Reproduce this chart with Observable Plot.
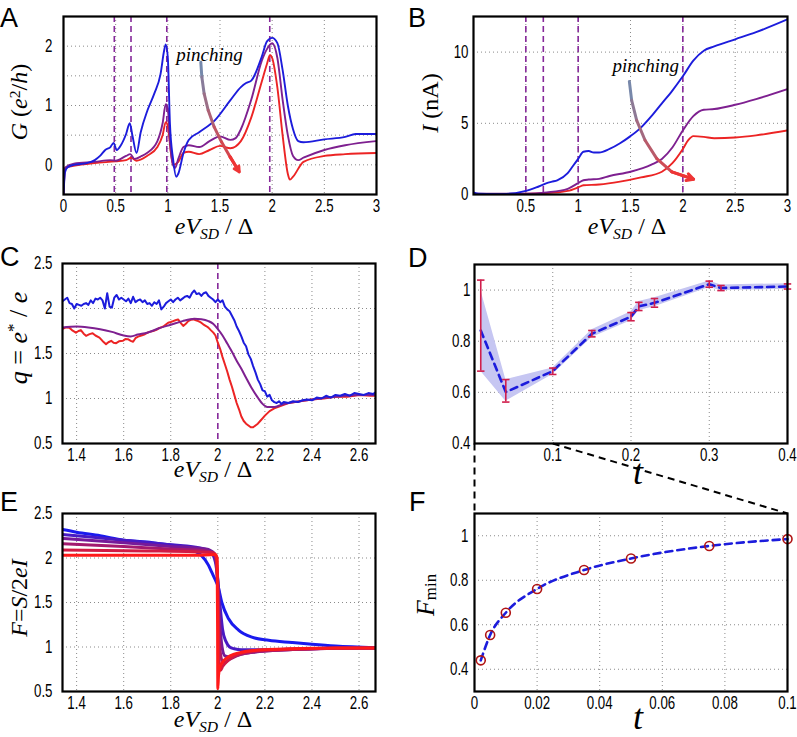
<!DOCTYPE html>
<html><head><meta charset="utf-8">
<script src="https://cdn.jsdelivr.net/npm/d3@7"></script>
<script src="https://cdn.jsdelivr.net/npm/@observablehq/plot@0.6"></script>
<style>
body{margin:0;background:#fff;}
#fig{position:relative;width:797px;height:737px;overflow:hidden;background:#fff;}
.lab{position:absolute;font-family:"Liberation Serif","Times New Roman",serif;font-size:24px;line-height:0.7;white-space:nowrap;color:#000;}
.lab sub,.lab sup{font-size:0.65em;line-height:0;position:relative;vertical-align:baseline;}
.lab sub{top:0.35em;}
.lab sub.low{top:0.12em;}
.lab sup{top:-0.45em;}
.letter{position:absolute;font-family:"Liberation Sans",Arial,sans-serif;font-size:27px;line-height:1;color:#000;}
</style>
</head><body><div id="fig"></div>
<script>
// ---------------- data ----------------
// Panel A: G (e^2/h) vs eV_SD/Δ
const aBlue = [[0,-0.5],[0.015,-0.12],[0.04,-0.04],[0.1,0.0],[0.2,0.02],[0.3,0.08],[0.35,0.15],[0.4,0.25],[0.45,0.3],[0.48,0.37],[0.51,0.25],[0.55,0.33],[0.6,0.52],[0.635,0.7],[0.66,0.5],[0.7,0.2],[0.74,0.55],[0.805,0.92],[0.87,1.2],[0.93,1.53],[0.965,1.93],[0.98,2.03],[1.0,1.8],[1.02,0.7],[1.05,0.1],[1.08,-0.2],[1.1,-0.15],[1.15,0.2],[1.2,0.42],[1.3,0.55],[1.45,0.75],[1.6,1.09],[1.7,1.31],[1.75,1.38],[1.8,1.42],[1.9,1.82],[1.95,2.08],[2.0,2.14],[2.05,2.05],[2.1,1.6],[2.15,1.0],[2.2,0.6],[2.25,0.4],[2.3,0.38],[2.5,0.43],[2.7,0.47],[2.8,0.52],[3.0,0.52]];
const aPurple = [[0,-0.5],[0.015,-0.05],[0.1,0.02],[0.3,0.05],[0.45,0.08],[0.5,0.07],[0.6,0.15],[0.64,0.18],[0.68,0.1],[0.75,0.15],[0.8,0.2],[0.9,0.4],[0.95,0.7],[0.98,1.02],[1.0,0.95],[1.02,0.4],[1.05,0.0],[1.07,-0.05],[1.1,0.1],[1.15,0.3],[1.2,0.33],[1.3,0.3],[1.4,0.4],[1.5,0.48],[1.6,0.42],[1.65,0.45],[1.7,0.6],[1.8,1.1],[1.9,1.75],[1.95,1.95],[2.0,2.05],[2.05,1.8],[2.1,1.1],[2.15,0.5],[2.2,0.15],[2.25,0.08],[2.3,0.12],[2.5,0.25],[2.7,0.33],[3.0,0.4]];
const aRed = [[0,-0.5],[0.015,-0.05],[0.3,0.03],[0.5,0.06],[0.6,0.08],[0.65,0.12],[0.7,0.07],[0.8,0.15],[0.9,0.3],[0.95,0.5],[0.98,0.72],[1.0,0.65],[1.03,0.2],[1.05,0.0],[1.1,0.05],[1.15,0.2],[1.2,0.22],[1.3,0.18],[1.4,0.25],[1.5,0.32],[1.6,0.28],[1.7,0.4],[1.8,0.8],[1.9,1.4],[1.95,1.7],[1.98,1.85],[2.0,1.8],[2.05,1.3],[2.1,0.5],[2.15,-0.15],[2.17,-0.25],[2.2,-0.2],[2.3,0.05],[2.5,0.15],[2.7,0.18],[3.0,0.2]];
const aMarkers = [0.487, 0.647, 0.99, 1.977];
const aArrow = [[1.316,1.731],[1.326,1.479],[1.348,1.199],[1.387,0.919],[1.444,0.639],[1.514,0.387],[1.597,0.134],[1.684,-0.118]];
const aText = [1.40, 1.86];

// Panel B: I (nA) vs eV_SD/Δ
const bBlue = [[0,0.15],[0.05,0.05],[0.2,0.02],[0.4,0.1],[0.5,0.25],[0.6,0.5],[0.7,0.8],[0.75,0.9],[0.8,1.0],[0.9,1.5],[0.95,2.0],[1.0,2.5],[1.05,3.0],[1.1,3.05],[1.15,2.95],[1.2,2.95],[1.3,3.2],[1.4,3.6],[1.5,4.1],[1.6,4.7],[1.7,5.5],[1.8,6.4],[1.9,7.3],[2.0,8.3],[2.1,9.4],[2.2,10.1],[2.3,10.4],[2.5,10.9],[2.7,11.4],[3.0,12.3]];
const bPurple = [[0,0.05],[0.5,0.05],[0.7,0.15],[0.9,0.4],[1.0,0.8],[1.05,1.0],[1.1,1.05],[1.2,1.1],[1.3,1.3],[1.5,1.6],[1.7,2.1],[1.8,2.5],[1.9,3.3],[2.0,4.5],[2.1,5.5],[2.2,5.95],[2.3,6.0],[2.5,6.3],[2.7,6.7],[3.0,7.4]];
const bRed = [[0,0.02],[0.7,0.1],[0.9,0.25],[1.0,0.5],[1.05,0.65],[1.2,0.7],[1.4,0.9],[1.6,1.2],[1.8,1.6],[1.9,2.2],[2.0,3.2],[2.05,3.8],[2.1,4.1],[2.2,4.05],[2.3,3.95],[2.5,4.0],[2.7,4.15],[3.0,4.5]];
const bMarkers = [0.5, 0.667, 1.0, 2.0];
const bArrow = [[1.489,7.94],[1.511,6.61],[1.559,5.21],[1.639,3.81],[1.751,2.52],[1.895,1.59],[2.103,1.07]];
const bText = [1.645, 9.0];

// Panel C: q = e*/e vs eV_SD/Δ
const cBlue = [[1.34,2.08],[1.35,2.10],[1.36,2.12],[1.37,2.06],[1.38,2.05],[1.39,2.00],[1.40,2.05],[1.41,2.04],[1.42,2.03],[1.43,2.05],[1.44,2.06],[1.45,2.04],[1.46,2.09],[1.47,2.06],[1.48,2.11],[1.49,2.10],[1.50,2.12],[1.51,2.09],[1.52,2.00],[1.53,2.17],[1.54,2.02],[1.55,2.01],[1.56,2.12],[1.57,2.15],[1.58,2.10],[1.59,2.12],[1.60,2.10],[1.61,2.08],[1.62,2.11],[1.63,2.06],[1.64,2.13],[1.65,2.07],[1.66,2.09],[1.67,2.10],[1.68,2.07],[1.69,2.09],[1.70,2.05],[1.71,2.06],[1.72,2.03],[1.73,2.07],[1.74,2.05],[1.75,2.09],[1.76,1.99],[1.77,2.02],[1.78,2.06],[1.79,2.08],[1.80,2.10],[1.81,2.07],[1.82,2.10],[1.83,2.12],[1.84,2.09],[1.85,2.11],[1.86,2.13],[1.87,2.14],[1.88,2.12],[1.89,2.17],[1.90,2.20],[1.91,2.16],[1.92,2.17],[1.93,2.14],[1.94,2.17],[1.95,2.18],[1.96,2.14],[1.97,2.12],[1.98,2.10],[1.99,2.07],[2.00,2.10],[2.01,2.07],[2.02,2.09],[2.03,2.02],[2.04,1.99],[2.05,1.97],[2.06,1.92],[2.07,1.87],[2.08,1.80],[2.09,1.75],[2.10,1.69],[2.11,1.62],[2.12,1.58],[2.13,1.49],[2.14,1.44],[2.15,1.36],[2.16,1.29],[2.17,1.21],[2.18,1.16],[2.19,1.09],[2.20,1.08],[2.21,1.02],[2.22,1.04],[2.23,0.98],[2.24,0.96],[2.25,0.95],[2.26,0.97],[2.27,0.94],[2.28,0.96],[2.30,0.95],[2.32,0.97],[2.34,0.96],[2.36,0.98],[2.38,0.99],[2.40,0.98],[2.42,1.01],[2.44,1.00],[2.46,1.03],[2.48,1.01],[2.50,1.04],[2.52,1.03],[2.54,1.05],[2.56,1.03],[2.58,1.06],[2.60,1.05],[2.62,1.04],[2.64,1.06],[2.66,1.05],[2.67,1.07]];
const cPurple = [[1.34,1.79],[1.40,1.80],[1.45,1.79],[1.50,1.77],[1.55,1.74],[1.60,1.70],[1.63,1.69],[1.66,1.71],[1.70,1.73],[1.75,1.78],[1.80,1.82],[1.85,1.86],[1.90,1.885],[1.93,1.88],[1.96,1.86],[1.98,1.83],[2.00,1.77],[2.02,1.70],[2.04,1.61],[2.06,1.52],[2.08,1.42],[2.10,1.33],[2.12,1.23],[2.145,1.11],[2.17,1.01],[2.19,0.94],[2.21,0.905],[2.24,0.905],[2.27,0.93],[2.30,0.95],[2.35,0.97],[2.40,0.99],[2.50,1.02],[2.60,1.04],[2.67,1.04]];
const cRed = [[1.343,1.776],[1.355,1.79],[1.369,1.787],[1.38,1.76],[1.397,1.732],[1.408,1.75],[1.418,1.76],[1.43,1.72],[1.44,1.696],[1.455,1.715],[1.468,1.725],[1.48,1.70],[1.497,1.677],[1.51,1.64],[1.525,1.604],[1.535,1.625],[1.547,1.641],[1.557,1.62],[1.568,1.615],[1.58,1.635],[1.597,1.641],[1.607,1.66],[1.618,1.659],[1.63,1.64],[1.64,1.63],[1.65,1.67],[1.661,1.688],[1.675,1.70],[1.69,1.714],[1.70,1.73],[1.71,1.74],[1.725,1.75],[1.739,1.762],[1.752,1.785],[1.767,1.798],[1.778,1.82],[1.789,1.842],[1.80,1.85],[1.81,1.86],[1.82,1.87],[1.831,1.879],[1.842,1.84],[1.853,1.806],[1.864,1.83],[1.874,1.86],[1.885,1.875],[1.896,1.879],[1.907,1.87],[1.917,1.86],[1.928,1.845],[1.938,1.824],[1.95,1.805],[1.96,1.787],[1.97,1.76],[1.981,1.732],[1.99,1.70],[2.00,1.62],[2.01,1.55],[2.02,1.46],[2.03,1.38],[2.04,1.30],[2.05,1.21],[2.06,1.13],[2.07,1.04],[2.08,0.95],[2.09,0.88],[2.10,0.80],[2.11,0.75],[2.12,0.72],[2.13,0.70],[2.14,0.68],[2.15,0.68],[2.16,0.70],[2.17,0.72],[2.18,0.75],[2.19,0.78],[2.20,0.81],[2.22,0.86],[2.24,0.89],[2.26,0.91],[2.28,0.93],[2.30,0.95],[2.35,0.97],[2.40,0.99],[2.45,1.00],[2.50,1.02],[2.55,1.02],[2.60,1.04],[2.65,1.03],[2.67,1.03]];
const cMarker = [2.0];

// Panel D: t vs value with error bars
const dT   = [0.008, 0.04, 0.1, 0.15, 0.2, 0.21, 0.23, 0.3, 0.315, 0.4];
const dMid = [0.842, 0.601, 0.683, 0.829, 0.896, 0.936, 0.95, 1.023, 1.008, 1.014];
const dErrHi = [1.039, 0.65, 0.695, 0.842, 0.912, 0.952, 0.967, 1.035, 1.018, 1.024];
const dErrLo = [0.683, 0.562, 0.67, 0.817, 0.88, 0.92, 0.933, 1.011, 0.998, 1.004];
const dBandHi = [1.0, 0.65, 0.695, 0.845, 0.915, 0.955, 0.97, 1.035, 1.02, 1.025];
const dBandLo = [0.683, 0.565, 0.67, 0.815, 0.88, 0.92, 0.935, 1.01, 0.998, 1.003];

// Panel E: F = S/2eI, six curves from red (most pinched) to blue
const eCurves = [
  [[1.34,2.03],[1.9,2.03],[1.99,2.04],[1.997,2.0],[1.999,1.2],[2.0,0.53],[2.003,0.68],[2.008,0.76],[2.02,0.83],[2.04,0.88],[2.07,0.92],[2.1,0.94],[2.15,0.96],[2.2,0.97],[2.3,0.98],[2.5,0.99],[2.67,0.99]],
  [[1.34,2.09],[1.7,2.08],[1.9,2.07],[1.98,2.06],[1.995,2.0],[2.0,1.6],[2.004,1.0],[2.008,0.76],[2.012,0.74],[2.02,0.78],[2.04,0.84],[2.07,0.9],[2.1,0.93],[2.15,0.955],[2.2,0.965],[2.3,0.975],[2.5,0.985],[2.67,0.99]],
  [[1.34,2.16],[1.6,2.13],[1.8,2.1],[1.95,2.08],[1.985,2.05],[1.998,1.8],[2.004,1.3],[2.01,0.95],[2.02,0.84],[2.03,0.83],[2.05,0.86],[2.08,0.9],[2.12,0.93],[2.2,0.955],[2.3,0.97],[2.5,0.985],[2.67,0.99]],
  [[1.34,2.22],[1.6,2.17],[1.8,2.13],[1.95,2.1],[1.985,2.05],[2.0,1.75],[2.008,1.3],[2.018,1.0],[2.03,0.9],[2.045,0.89],[2.07,0.9],[2.1,0.92],[2.15,0.94],[2.2,0.955],[2.3,0.97],[2.5,0.985],[2.67,0.99]],
  [[1.34,2.265],[1.6,2.2],[1.8,2.15],[1.93,2.11],[1.97,2.07],[1.99,1.95],[2.0,1.75],[2.01,1.45],[2.02,1.2],[2.035,1.06],[2.05,1.0],[2.07,0.98],[2.1,0.97],[2.2,0.97],[2.3,0.975],[2.5,0.985],[2.67,0.99]],
  [[1.34,2.32],[1.4,2.29],[1.5,2.25],[1.6,2.2],[1.7,2.18],[1.8,2.145],[1.85,2.13],[1.9,2.08],[1.93,2.03],[1.96,1.92],[1.974,1.84],[1.99,1.75],[2.0,1.69],[2.017,1.5],[2.045,1.32],[2.088,1.19],[2.145,1.11],[2.216,1.075],[2.315,1.05],[2.4,1.03],[2.5,1.01],[2.67,0.99]]
];

// Panel F: F_min vs t
const fT   = [0.002, 0.005, 0.01, 0.02, 0.035, 0.05, 0.075, 0.1];
const fMin = [0.44, 0.554, 0.654, 0.761, 0.846, 0.898, 0.954, 0.985];

// ---------------- styling / layout ----------------
const BLUE = "#1c1cdc", PURPLE = "#7e2090", RED = "#ec2424", MARK = "#86289a";
const fig = document.getElementById("fig");
const tickFont = '"Liberation Sans",Arial,sans-serif';
const pts = a => a.map(([x, y]) => ({x, y}));
const grid = (vals, dir) => dir === "x"
  ? Plot.ruleX(vals, {stroke: "#8a8a8a", strokeDasharray: "1,3", strokeWidth: 1})
  : Plot.ruleY(vals, {stroke: "#8a8a8a", strokeDasharray: "1,3", strokeWidth: 1});
const fmt = d => String(d);

// narrow (MATLAB-like condensed) tick labels: squeeze each tick label horizontally around its anchor
function condense(svg, s) {
  svg.querySelectorAll('g[aria-label$="tick label"] text, g[aria-label="x-axis"] text, g[aria-label="y-axis"] text').forEach(t => {
    const b = t.getBBox();
    const anchor = getComputedStyle(t).textAnchor;
    const ax = anchor === "end" ? b.x + b.width : anchor === "start" ? b.x : b.x + b.width / 2;
    const tr = t.getAttribute("transform") || "";
    t.setAttribute("transform", `${tr} translate(${ax},0) scale(${s},1) translate(${-ax},0)`);
  });
}

function panel({frame, m, x, y, marks, color, ypad = 10}) {
  const [fl, ft, fw, fh] = frame;
  const svg = Plot.plot({
    width: m.l + fw + m.r, height: m.t + fh + m.b,
    marginLeft: m.l, marginRight: m.r, marginTop: m.t, marginBottom: m.b,
    style: {fontFamily: tickFont, fontSize: "18px", color: "#000", background: "transparent", overflow: "visible"},
    x: {...x, tickSize: 0, tickPadding: 5, tickFormat: fmt, label: null},
    y: {...y, tickSize: 0, tickPadding: ypad, tickFormat: fmt, label: null},
    color: color || undefined,
    marks: [...marks, Plot.frame({stroke: "#000", strokeWidth: 2.2})]
  });
  svg.style.position = "absolute";
  svg.style.left = (fl - m.l) + "px";
  svg.style.top = (ft - m.t) + "px";
  fig.appendChild(svg);
  condense(svg, 0.74);
}

function arrowMarks(p, c0, c1) {
  const ip = d3.interpolateRgb(c0, c1);
  const segs = d3.pairs(p).map(([a, b], i, arr) => ({x1: a[0], y1: a[1], x2: b[0], y2: b[1], c: ip((i + 0.5) / arr.length)}));
  const last = segs[segs.length - 1];
  return [
    Plot.link(segs, {x1: "x1", y1: "y1", x2: "x2", y2: "y2", stroke: "c", strokeWidth: 3, strokeLinecap: "round"}),
    Plot.arrow([last], {x1: "x1", y1: "y1", x2: "x2", y2: "y2", stroke: c1, strokeWidth: 3, headLength: 13, headAngle: 55})
  ];
}
const textMark = (p) => Plot.text([{x: p[0], y: p[1], s: "pinching"}], {x: "x", y: "y", text: "s", fontFamily: '"Liberation Serif","Times New Roman",serif', fontStyle: "italic", fontSize: 19, fill: "#000"});
const line = (a, stroke, w = 1.9, curve = "monotone-x") => Plot.line(pts(a), {x: "x", y: "y", stroke, strokeWidth: w, curve, clip: true});

const M = {l: 48, r: 14, t: 8, b: 30};

// A
panel({
  frame: [63, 16, 313, 178], m: M, color: {type: "identity"}, ypad: 11,
  x: {domain: [0, 3], ticks: [0, 0.5, 1, 1.5, 2, 2.5, 3]},
  y: {domain: [-0.5, 2.5], ticks: [0, 1, 2]},
  marks: [
    grid([0.5, 1, 1.5, 2, 2.5], "x"), grid([0, 0.5, 1, 1.5, 2], "y"),
    Plot.ruleX(aMarkers, {stroke: MARK, strokeWidth: 1.6, strokeDasharray: "6,4"}),
    line(aRed, RED), line(aPurple, PURPLE), line(aBlue, BLUE),
    ...arrowMarks(aArrow, "#6d8fb5", "#ee3535"),
    textMark(aText)
  ]
});

// B
panel({
  frame: [473, 16, 314, 178], m: M, color: {type: "identity"}, ypad: 5,
  x: {domain: [0, 3], ticks: [0.5, 1, 1.5, 2, 2.5, 3]},
  y: {domain: [0, 12.5], ticks: [0, 5, 10]},
  marks: [
    grid([0.5, 1, 1.5, 2, 2.5], "x"), grid([5, 10], "y"),
    Plot.ruleX(bMarkers, {stroke: MARK, strokeWidth: 1.6, strokeDasharray: "6,4"}),
    line(bRed, RED), line(bPurple, PURPLE), line(bBlue, BLUE),
    ...arrowMarks(bArrow, "#6d8fb5", "#ee3535"),
    textMark(bText)
  ]
});

// C
panel({
  frame: [62, 263, 313, 180], m: M, ypad: 10,
  x: {domain: [1.34, 2.67], ticks: [1.4, 1.6, 1.8, 2, 2.2, 2.4, 2.6]},
  y: {domain: [0.5, 2.5], ticks: [0.5, 1, 1.5, 2, 2.5]},
  marks: [
    grid([1.4, 1.6, 1.8, 2.2, 2.4, 2.6], "x"), grid([1, 1.5, 2], "y"),
    Plot.ruleX(cMarker, {stroke: MARK, strokeWidth: 1.6, strokeDasharray: "6,4"}),
    line(cRed, RED, 2, "linear"), line(cPurple, PURPLE, 2), line(cBlue, BLUE, 2, "linear")
  ]
});

// D (with zoom connectors down to F)
const D_FRAME = [474, 264, 313, 179], F_FRAME = [474, 513, 313, 178];
const dDomainY = [0.4, 1.1];
const gapPx = F_FRAME[1] - (D_FRAME[1] + D_FRAME[3]);
const yConn = dDomainY[0] - gapPx * (dDomainY[1] - dDomainY[0]) / D_FRAME[3];
const dRows = dT.map((t, i) => ({t, mid: dMid[i], hi: dErrHi[i], lo: dErrLo[i], bhi: dBandHi[i], blo: dBandLo[i]}));
const capSymbol = {draw(ctx, size) { const w = Math.sqrt(size); ctx.moveTo(-w, 0); ctx.lineTo(w, 0); }};
panel({
  frame: D_FRAME, m: {l: 48, r: 14, t: 8, b: gapPx + 6}, ypad: 4,
  x: {domain: [0, 0.4], ticks: [0.1, 0.2, 0.3, 0.4]},
  y: {domain: dDomainY, ticks: [0.4, 0.6, 0.8, 1]},
  marks: [
    grid([0.1, 0.2, 0.3], "x"), grid([0.6, 0.8, 1], "y"),
    Plot.areaY(dRows, {x: "t", y1: "blo", y2: "bhi", fill: "#c6c6f2"}),
    Plot.line(dRows, {x: "t", y: "mid", stroke: BLUE, strokeWidth: 2.6, strokeDasharray: "7,5"}),
    Plot.ruleX(dRows, {x: "t", y1: "lo", y2: "hi", stroke: "#d01e4c", strokeWidth: 1.6}),
    Plot.dot(dRows, {x: "t", y: "hi", r: 2.1, symbol: capSymbol, stroke: "#d01e4c", strokeWidth: 1.6, fill: "none"}),
    Plot.dot(dRows, {x: "t", y: "lo", r: 2.1, symbol: capSymbol, stroke: "#d01e4c", strokeWidth: 1.6, fill: "none"}),
    Plot.link([{x1: 0, y1: dDomainY[0], x2: 0, y2: yConn}, {x1: 0.1, y1: dDomainY[0], x2: 0.4, y2: yConn}],
      {x1: "x1", y1: "y1", x2: "x2", y2: "y2", stroke: "#000", strokeWidth: 2, strokeDasharray: "7,5"})
  ]
});

// E
const eColor = d3.interpolateRgb("#ff1a1a", "#1a1aee");
panel({
  frame: [62, 513, 313, 178], m: M, ypad: 10,
  x: {domain: [1.34, 2.67], ticks: [1.4, 1.6, 1.8, 2, 2.2, 2.4, 2.6]},
  y: {domain: [0.5, 2.5], ticks: [0.5, 1, 1.5, 2, 2.5]},
  marks: [
    grid([1.4, 1.6, 1.8, 2, 2.2, 2.4, 2.6], "x"), grid([1, 1.5, 2], "y"),
    ...eCurves.map((c, i) => i).reverse().map(i => line(eCurves[i], eColor(i / (eCurves.length - 1)), 3, "monotone-x"))
  ]
});

// F
const fRows = fT.map((t, i) => ({t, v: fMin[i]}));
panel({
  frame: F_FRAME, m: M, ypad: 6,
  x: {domain: [0, 0.1], ticks: [0, 0.02, 0.04, 0.06, 0.08, 0.1]},
  y: {domain: [0.3, 1.1], ticks: [0.4, 0.6, 0.8, 1]},
  marks: [
    grid([0.02, 0.04, 0.06, 0.08], "x"), grid([0.4, 0.6, 0.8, 1], "y"),
    Plot.line(fRows, {x: "t", y: "v", stroke: BLUE, strokeWidth: 2.6, strokeDasharray: "7,5", curve: "monotone-x"}),
    Plot.dot(fRows, {x: "t", y: "v", r: 4.5, stroke: "#b01414", strokeWidth: 1.6, fill: "none"})
  ]
});

// ---------------- HTML labels ----------------
function lab(html, cx, cy, size, rotate) {
  const d = document.createElement("div");
  d.className = "lab";
  d.innerHTML = html;
  d.style.left = cx + "px"; d.style.top = cy + "px";
  d.style.fontSize = size + "px";
  d.style.transform = "translate(-50%,-50%)" + (rotate ? " rotate(-90deg)" : "");
  fig.appendChild(d);
}
function letter(s, left, top) {
  const d = document.createElement("div");
  d.className = "letter"; d.textContent = s;
  d.style.left = left + "px"; d.style.top = top + "px";
  fig.appendChild(d);
}
const xlab = '<i>eV</i><sub><i>SD</i></sub> / Δ';
lab(xlab, 214, 226, 24);
lab(xlab, 627, 226, 24);
lab(xlab, 213, 469, 24);
lab(xlab, 213, 719, 24);
lab('<i>t</i>', 638, 473, 36);
lab('<i>t</i>', 638, 718, 36);
lab('<i>G</i> (<i>e</i><sup>2</sup>/<i>h</i>)', 19, 102, 24, true);
lab('<i>I</i> (nA)', 430, 103, 24, true);
lab('<i>q</i> = <i>e</i><sup>*</sup> / <i>e</i>', 19, 338, 26, true);
lab('<i>F</i>=<i>S</i>/2<i>eI</i>', 19, 598, 24, true);
lab('<i>F</i><sub class="low">min</sub>', 426, 595, 26, true);
letter("A", 0, 5); letter("B", 408, 5);
letter("C", 0, 244); letter("D", 408, 245);
letter("E", 0, 489); letter("F", 409, 489);
</script>
</body></html>
